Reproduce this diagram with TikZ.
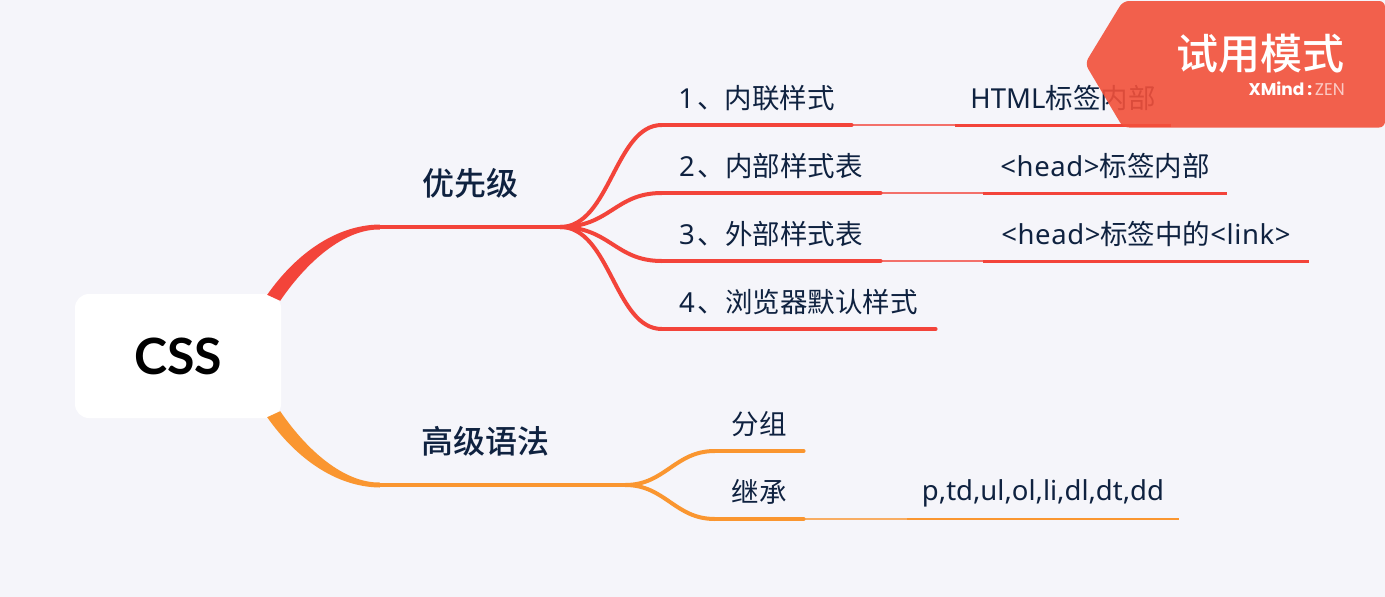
\documentclass[tikz,border=0pt]{standalone}
\usepackage{fontspec}
\setmainfont{Noto Sans}
\newfontfamily\lsp[LetterSpace=2]{Noto Sans}
\newfontfamily\lat{Lato}
\newfontfamily\pop{Poppins}
\newfontfamily\cjk{Noto Sans CJK SC}
\newfontfamily\cjkm{Noto Sans CJK SC Medium}
\usetikzlibrary{calc}
\definecolor{bgc}{HTML}{F5F5FA}
\definecolor{redc}{HTML}{F3443A}
\definecolor{orc}{HTML}{FA9630}
\definecolor{inkc}{HTML}{0F2240}
\definecolor{banc}{HTML}{F2503A}
\newcommand{\fs}[1]{\fontsize{#1}{#1}\selectfont}
\tikzset{
  x=1pt,y=-1pt,
  lab/.style={anchor=south,inner sep=0pt,minimum height=54pt,text=inkc},
  subt/.style={lab,font=\fs{27.5}},
  brt/.style={lab,minimum height=86pt,font=\fs{32}},
  thickln/.style={line width=4.8pt,line cap=round},
  thinln/.style={line width=2pt,opacity=.75},
  detln/.style={line width=3pt},
  curveln/.style={line width=4pt},
}
\begin{document}
\begin{tikzpicture}
\path[fill=bgc,use as bounding box] (0,0) rectangle (1385,597);
% nodes
\node[fill=white,rounded corners=14pt,minimum width=206pt,minimum height=124pt,inner sep=0pt,font=\fs{50},text=black] (root) at (178,356) {\lat\bfseries CSS};
\node[brt,minimum width=180pt] (b1) at (470,227) {\cjkm 优先级};
\node[brt,minimum width=245pt] (b2) at (502.5,485) {\hspace*{-34pt}\cjkm 高级语法};
\node[subt,minimum width=189pt] (s1) at (756.5,125) {1\hspace{3pt}\cjk 、内联样式};
\node[subt,minimum width=218pt] (s2) at (771,193) {2\hspace{3pt}\cjk 、内部样式表};
\node[subt,minimum width=218pt] (s3) at (771,261) {3\hspace{3pt}\cjk 、外部样式表};
\node[subt,minimum width=273pt] (s4) at (798.5,329) {4\hspace{3pt}\cjk 、浏览器默认样式};
\node[subt,minimum width=88pt] (s5) at (759,451) {\cjk 分组};
\node[subt,minimum width=88pt] (s6) at (759,519) {\cjk 继承};
\node[subt,minimum width=216pt] (d1) at (1063,125) {HTML\cjk 标签内部};
\node[subt,minimum width=244pt] (d2) at (1105,193) {{\lsp <head>}\cjk 标签内部};
\node[subt,minimum width=326pt] (d3) at (1146,261) {{\lsp <head>}\cjk 标签中的\lsp <link>};
\node[subt,minimum width=272pt] (d6) at (1043,519) {\vphantom{\cjk 标}p,td,ul,ol,li,dl,dt,dd};
% connectors
\foreach \n/\c in {b1/redc,s1/redc,s2/redc,s3/redc,s4/redc,b2/orc,s5/orc,s6/orc}{
  \draw[thickln,draw=\c] (\n.south west) -- (\n.south east);
}
\foreach \n in {d1,d2,d3}{\draw[detln,draw=redc] (\n.south west) -- (\n.south east);}
\draw[detln,line width=2.5pt,draw=orc] (d6.south west) -- (d6.south east);
\draw[thinln,draw=redc] (s1.south east) -- (d1.south west);
\draw[thinln,draw=redc] (s2.south east) -- (d2.south west);
\draw[thinln,draw=redc] (s3.south east) -- (d3.south west);
\draw[thinln,draw=orc] (s6.south east) -- (d6.south west);
\foreach \n in {s1,s2,s3,s4}{
  \draw[curveln,draw=redc] (b1.south east) .. controls ($(b1.south east)+(50,0)$) and ($(\n.south west)+(-47,0)$) .. (\n.south west);
}
\foreach \n in {s5,s6}{
  \draw[curveln,draw=orc] (b2.south east) .. controls ($(b2.south east)+(40,0)$) and ($(\n.south west)+(-40,0)$) .. (\n.south west);
}
\fill[redc] ($(root.north east)+(-14,1)$) .. controls (295,255) and (335,225) .. ($(b1.south west)+(0,-2.5)$) -- ($(b1.south west)+(0,2.5)$) .. controls (345,229) and (308,260) .. ($(root.north east)+(-1,7)$) -- cycle;
\fill[orc] ($(root.south east)+(-14,-1)$) .. controls (295,457) and (335,487) .. ($(b2.south west)+(0,2.5)$) -- ($(b2.south west)+(0,-2.5)$) .. controls (345,483) and (308,452) .. ($(root.south east)+(-1,-7)$) -- cycle;
% banner
\path[fill=banc,opacity=.9,rounded corners=6pt] (1385,1) -- (1123,1) -- (1085,63.5) -- (1123,127.5) -- (1385,127.5) -- cycle;
\node[inner sep=0pt,anchor=east,text=white,font=\fs{42}] (ban) at (1345,54) {\cjkm 试用模式};
\node[inner sep=0pt,anchor=east,text=white,font=\fs{17}] (ver) at (1345,89) {\pop\bfseries XMind\,:\,\fontseries{l}\selectfont\color{white!70!banc}ZEN};
\end{tikzpicture}
\end{document}
